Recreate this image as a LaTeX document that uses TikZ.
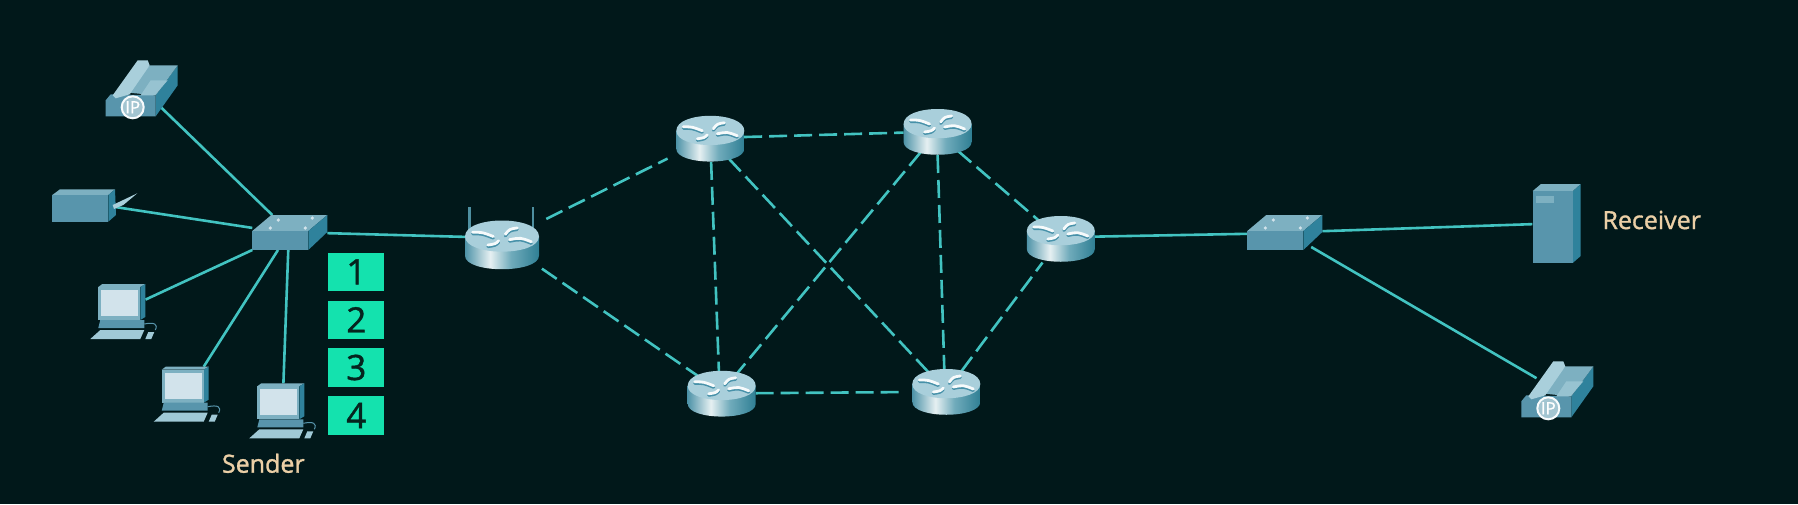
\documentclass[tikz,border=0pt]{standalone}
\usepackage{fontspec}
\setmainfont{Open Sans}
\newfontfamily\labfont[FakeBold=1.2]{Open Sans}
\usetikzlibrary{shapes.geometric}
\definecolor{bgc}{HTML}{01181A}
\definecolor{wire}{HTML}{42C3C1}
\definecolor{tealF}{HTML}{5895AC}
\definecolor{tealT}{HTML}{7DB0C1}
\definecolor{tealD}{HTML}{2F829C}
\definecolor{tealL}{HTML}{A9CFDB}
\definecolor{screenc}{HTML}{D2E3EB}
\definecolor{greenb}{HTML}{14E2AE}
\definecolor{labelc}{HTML}{EBCFA6}
\definecolor{digitc}{HTML}{05241E}
\definecolor{cylL}{HTML}{4E93A8}
\definecolor{cylW}{HTML}{E6F0F2}
\definecolor{cylM}{HTML}{70ABBB}
\definecolor{cylR}{HTML}{2F7F94}
\definecolor{antc}{HTML}{4E8FA0}
\pgfdeclarehorizontalshading{cylshade}{100bp}{color(0bp)=(cylL); color(25bp)=(cylL); color(42bp)=(cylW); color(56bp)=(cylM); color(75bp)=(cylR); color(100bp)=(cylR)}
\tikzset{
  x=0.5pt,y=-0.5pt,
  routerbox/.style={ellipse,inner sep=0pt,outer sep=0pt,minimum width=68*0.5pt,minimum height=46*0.5pt},
  bigrouterbox/.style={ellipse,inner sep=0pt,outer sep=0pt,minimum width=74*0.5pt,minimum height=49*0.5pt},
  phonebox/.style={ellipse,inner sep=0pt,outer sep=0pt,minimum width=56*0.5pt,minimum height=38*0.5pt},
  switchbox/.style={rectangle,inner sep=0pt,outer sep=0pt,minimum width=75*0.5pt,minimum height=35*0.5pt},
  pcbox/.style={rectangle,inner sep=0pt,outer sep=0pt,minimum width=47*0.5pt,minimum height=37*0.5pt},
  solidw/.style={draw=wire,line width=1.3pt},
  dashw/.style={draw=wire,line width=1.3pt,dash pattern=on 9pt off 3.5pt},
  numbox/.style={rectangle,fill=greenb,inner sep=0pt,minimum width=28pt,minimum height=19.2pt,font=\labfont\fontsize{17.5}{17.5}\selectfont,text=digitc},
  lab/.style={text=labelc,inner sep=0pt,font=\labfont\fontsize{12.5}{14}\selectfont},
  pics/routerpic/.style={code={
    \path[shading=cylshade]
      (-34,-8) -- (-34,10) .. controls (-34,27) and (34,27) .. (34,10) -- (34,-8) -- cycle;
    \path[fill=tealL] (-34,-8) .. controls (-34,-28) and (34,-28) .. (34,-8) .. controls (34,11) and (-34,11) .. (-34,-8) -- cycle;
    \foreach \a/\b/\c/\d/\e/\f in {-27/-12/-18/-12/-8/-8, 27/-3/17/-7/7/-5, 3/-10/7/-15/14/-16, -3/-4/-6/-1/-13/0}{
      \draw[line width=1.5pt,tealD!80!tealL,line cap=round] (\a,\b+1.5) .. controls (\c,\d+1.5) .. (\e,\f+1.5);
      \draw[line width=1.4pt,white!90!tealL,line cap=round] (\a,\b) .. controls (\c,\d) .. (\e,\f);
    }
  }},
  pics/switchpic/.style={code={
    \fill[tealT] (0,16) -- (56,16) -- (75,0) -- (19,0) -- cycle;
    \fill[tealF] (0,16) -- (56,16) -- (56,35) -- (0,35) -- cycle;
    \fill[tealD] (56,16) -- (75,0) -- (75,17) -- (56,35) -- cycle;
    \foreach \p/\q in {26/5,60/3,18/13,53/13} \fill[screenc] (\p,\q) circle[radius=1.8];
  }},
  pics/phonepic/.style={code={
    \fill[tealD] (23,-12) -- (45,-42) -- (45,-22) -- (23,9) -- cycle;
    \fill[tealT] (-8,-15) -- (17,-42) -- (45,-42) -- (23,-12) -- cycle;
    \fill[tealF] (-27,-7) -- (-22,-13) -- (23,-12) -- (23,9) -- (-27,9) -- cycle;
    \fill[tealL] (-20,-12) -- (5,-47) -- (15,-47) -- (17,-42) -- (-3,-13) -- (-17,-9) -- cycle;
    \fill[tealL!60!tealT] (8,-12) -- (22,-12) -- (35,-27) -- (18,-27) -- cycle;
    \draw[white!92!tealL,fill=tealF!55!white,line width=1pt] (0,0) circle[radius=11];
    \node[text=white,inner sep=0pt,font=\labfont\fontsize{8.5}{8.5}\selectfont] at (0,0) {IP};
  }},
  pics/pcpic/.style={code={
    \fill[tealT] (0,3) -- (4,0) -- (47,0) -- (42,3) -- cycle;
    \fill[tealD] (42,3) -- (47,0) -- (47,33) -- (42,36) -- cycle;
    \fill[tealT] (0,3) rectangle (42,36);
    \fill[screenc] (3,6) rectangle (40,32);
    \fill[tealF] (2,36) -- (46,36) -- (46,44) -- (0,44) -- cycle;
    \fill[tealL!80!tealT] (-8,55) -- (2,46) -- (46,46) -- (42,55) -- cycle;
    \fill[tealL!80!tealT] (47,55) -- (50,48) -- (56,48) -- (53,55) -- cycle;
    \draw[tealF,line width=0.5pt] (46,40) .. controls (56,38) and (60,40) .. (57,46);
  }}
}
\begin{document}
\begin{tikzpicture}
\useasboundingbox[fill=bgc] (0,0) rectangle (1798,504);
% anchors of the devices
\node[phonebox] (ph1) at (141.5,88.5) {};
\node[phonebox] (ph2) at (1557.5,390.8) {};
\node[rectangle,inner sep=0pt,minimum width=32pt,minimum height=16.5pt] (fax) at (84,205.5) {};
\node[switchbox] (sw1) at (289.8,232.5) {};
\node[switchbox] (sw2) at (1284.8,232.5) {};
\node[pcbox] (pc1) at (122,302.5) {};
\node[pcbox] (pc2) at (185.2,385.2) {};
\node[pcbox] (pc3) at (280.8,401.8) {};
\node[bigrouterbox] (r0) at (502,245) {};
\node[routerbox] (r1) at (710.3,138.8) {};
\node[routerbox] (r2) at (937.6,132) {};
\node[routerbox] (r3) at (721.7,393.8) {};
\node[routerbox] (r4) at (946.3,392) {};
\node[routerbox] (r5) at (1060.8,239) {};
\node[rectangle,inner sep=0pt,minimum width=24pt,minimum height=39.3pt] (srv) at (1556.7,223.3) {};
% connectors
\draw[solidw] (ph1.-44.5) -- (sw1.135.8);
\draw[solidw] (fax.-3.5) -- (sw1.173);
\draw[solidw] (pc1.7.4) -- (sw1.205);
\draw[solidw] (pc2.45.6) -- (sw1.236.7);
\draw[solidw] (pc3.82) -- (sw1.265);
\draw[solidw] (sw1.-1) -- (r0.167);
\draw[dashw,shorten <=10pt,shorten >=8pt] (r0.33.4) -- (r1.204.6);
\draw[dashw,shorten <=7pt] (r0.-29.3) -- (r3.143.8);
\draw[dashw] (r1.3.5) -- (r2.181);
\draw[dashw] (r1.-88) -- (r3.97);
\draw[dashw] (r1.-47.4) -- (r4.132);
\draw[dashw] (r2.230) -- (r3.53);
\draw[dashw] (r2.-90) -- (r4.95);
\draw[dashw] (r2.-43) -- (r5.140);
\draw[dashw,shorten >=4pt] (r3.1) -- (r4.180);
\draw[dashw,shorten >=2pt] (r4.54.5) -- (r5.232);
\draw[solidw] (r5.4) -- (sw2.182.3);
\draw[solidw] (sw2.2.7) -- (srv.182);
\draw[solidw,shorten <=-3pt] (sw2.-29.9) -- (ph2.149);
% devices
\pic at (132.7,107.3) {phonepic};
\pic at (1548.3,408.3) {phonepic};
\fill[tealT] (52.3,195) -- (60,189.3) -- (115,189.3) -- (108.3,195) -- cycle;
\fill[tealF] (52.3,195) rectangle (108.3,221.7);
\fill[tealD] (108.3,195) -- (115,189.3) -- (116,215) -- (108.3,221.7) -- cycle;
\fill[tealL] (112.7,205) -- (137.3,193.3) -- (123.3,205) -- (114,209) -- cycle;
\pic at (252.3,215) {switchpic};
\pic at (1247.3,215) {switchpic};
\pic at (98.3,284) {pcpic};
\pic at (161.7,366.7) {pcpic};
\pic at (257.3,383.3) {pcpic};
\draw[antc,line width=1.1pt] (469.5,207) -- (469.5,240);
\draw[antc,line width=1.1pt] (533,207) -- (533,240);
\pic[xscale=74/68,yscale=49/46] at (502,245) {routerpic};
\pic at (710.3,138.8) {routerpic};
\pic at (937.6,132) {routerpic};
\pic at (721.7,393.8) {routerpic};
\pic at (946.3,392) {routerpic};
\pic at (1060.8,239) {routerpic};
% server
\fill[tealT] (1532.7,191) -- (1541,184) -- (1580.7,184) -- (1573,191) -- cycle;
\fill[tealD] (1573,191) -- (1580.7,184) -- (1580.7,256) -- (1573,262.7) -- cycle;
\fill[tealF] (1532.7,191) rectangle (1573,262.7);
\fill[tealT] (1536,196) rectangle (1554,203);
% number boxes
\node[numbox] (n1) at (356.3,271.8) {1};
\node[numbox] (n2) at (356.3,319.8) {2};
\node[numbox] (n3) at (356.3,367.5) {3};
\node[numbox] (n4) at (356.3,415.5) {4};
\node[lab] (snd) at (263.3,463.3) {Sender};
\node[lab] (rcv) at (1651.7,220) {Receiver};
\end{tikzpicture}
\end{document}
